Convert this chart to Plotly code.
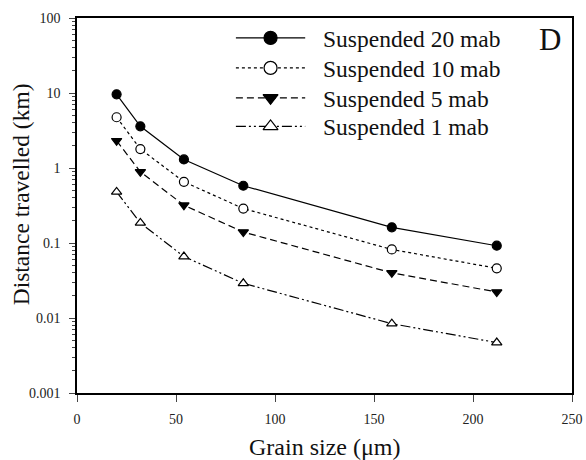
import plotly.graph_objects as go

# Grain size (µm) of each class
grain_size = [20, 32, 54, 84, 159, 212]

# Distance travelled (km) for each suspension height
susp_20 = [9.6, 3.6, 1.30, 0.58, 0.162, 0.092]
susp_10 = [4.75, 1.79, 0.655, 0.288, 0.082, 0.046]
susp_5 = [2.31, 0.89, 0.319, 0.140, 0.040, 0.0222]
susp_1 = [0.48, 0.185, 0.066, 0.029, 0.0084, 0.0047]

series_names = ["Suspended 20 mab", "Suspended 10 mab", "Suspended 5 mab", "Suspended 1 mab"]

y_tickvals = [0.001, 0.01, 0.1, 1, 10, 100]
y_ticktext = ["0.001", "0.01", "0.1", "1", "10", "100"]
y_minorvals = [m * 10 ** e for e in range(-3, 2) for m in range(2, 10)]
x_tickvals = [0, 50, 100, 150, 200, 250]

FONT = "Liberation Serif"

styles = [
    dict(dash="solid", symbol="circle", fill="black"),
    dict(dash="dot", symbol="circle", fill="white"),
    dict(dash="7px,4px", symbol="triangle-down", fill="black"),
    dict(dash="10px,3px,2px,3px,2px,3px", symbol="triangle-up", fill="white"),
]
values = [susp_20, susp_10, susp_5, susp_1]

# Key layout, in fractions of the plotting area (drawn on a hidden overlay axis)
key_rows = [0.947, 0.867, 0.787, 0.711]
key_line = (0.321, 0.461)
key_text_x = 0.493

fig = go.Figure()
for name, ys, st, ky in zip(series_names, values, styles, key_rows):
    fig.add_trace(go.Scatter(
        x=grain_size, y=ys, mode="lines+markers", name=name, showlegend=False,
        line=dict(color="black", width=1.2, dash=st["dash"]),
        marker=dict(symbol=st["symbol"], size=9, color=st["fill"],
                    line=dict(color="black", width=1.2)),
    ))
    # key sample: line with a larger marker in the middle
    fig.add_trace(go.Scatter(
        x=[key_line[0], key_line[1]], y=[ky, ky], mode="lines", showlegend=False,
        xaxis="x2", yaxis="y2", hoverinfo="skip",
        line=dict(color="black", width=1.2, dash=st["dash"]),
    ))
    fig.add_trace(go.Scatter(
        x=[(key_line[0] + key_line[1]) / 2], y=[ky], mode="markers", showlegend=False,
        xaxis="x2", yaxis="y2", hoverinfo="skip",
        marker=dict(symbol=st["symbol"], size=13, color=st["fill"],
                    line=dict(color="black", width=1.2)),
    ))
    fig.add_annotation(text=name, xref="x2", yref="y2", x=key_text_x, y=ky,
                       xanchor="left", yanchor="middle", yshift=-1, showarrow=False,
                       font=dict(family=FONT, size=23.5, color="#111"))

fig.add_annotation(text="D", xref="paper", yref="paper", x=0.956, y=0.943,
                   xanchor="center", yanchor="middle", showarrow=False,
                   font=dict(family=FONT, size=31, color="#111"))

# axis titles
fig.add_annotation(text="Grain size (\u03bcm)", xref="paper", yref="paper",
                   x=0.5, y=-0.143, xanchor="center", yanchor="middle", showarrow=False,
                   font=dict(family=FONT, size=24, color="#111"))
fig.add_annotation(text="Distance travelled (km)", xref="paper", yref="paper",
                   x=-0.113, y=0.53, xanchor="center", yanchor="middle", showarrow=False,
                   textangle=-90, font=dict(family=FONT, size=23.5, color="#111"))

fig.update_layout(
    width=586, height=460,
    margin=dict(l=77, r=14, t=18, b=67),
    paper_bgcolor="white", plot_bgcolor="white",
    font=dict(family=FONT, color="#111"),
    showlegend=False,
    xaxis=dict(range=[0, 250], tickvals=x_tickvals, ticks="outside", ticklen=7,
               tickwidth=1.2, showline=True, linecolor="black", linewidth=1.5,
               mirror=True, showgrid=False, zeroline=False, automargin=False,
               ticklabelstandoff=5,
               tickfont=dict(family=FONT, size=14, color="#222")),
    yaxis=dict(type="log", range=[-3, 2], tickvals=y_tickvals, ticktext=y_ticktext,
               ticks="outside", ticklen=6, tickwidth=1.2, showline=True,
               linecolor="black", linewidth=1.5, mirror=True, showgrid=False,
               zeroline=False, automargin=False, ticklabelstandoff=6,
               minor=dict(tickvals=y_minorvals, ticks="outside", ticklen=3,
                          tickwidth=1, showgrid=False),
               tickfont=dict(family=FONT, size=14, color="#222")),
    xaxis2=dict(overlaying="x", range=[0, 1], visible=False, fixedrange=True),
    yaxis2=dict(overlaying="y", range=[0, 1], visible=False, fixedrange=True),
)

fig.write_html("out.html")
